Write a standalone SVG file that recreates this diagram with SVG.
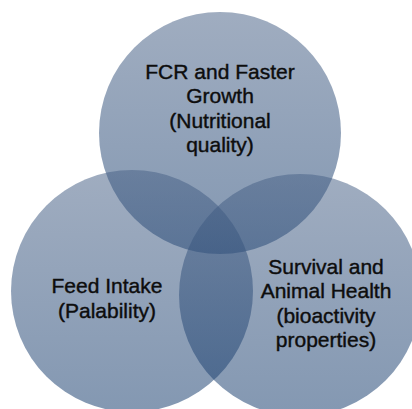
<svg xmlns="http://www.w3.org/2000/svg" width="412" height="409" viewBox="0 0 412 409">
<defs>
<linearGradient id="g" x1="0" y1="0" x2="0" y2="1">
<stop offset="0" stop-color="#486186"/>
<stop offset="1" stop-color="#12396b"/>
</linearGradient>
<style>
.c{fill:url(#g);fill-opacity:0.52}
text{font-family:"Liberation Sans",Arial,sans-serif;font-size:21px;fill:#0d0d0d;stroke:#0d0d0d;stroke-width:0.4;text-anchor:middle}
</style>
</defs>
<rect width="412" height="409" fill="#fff"/>
<g id="top">
<circle class="c" cx="220" cy="133" r="121"/>
<text x="220" y="79">FCR and Faster</text>
<text x="220" y="103">Growth</text>
<text x="220" y="127.5">(Nutritional</text>
<text x="220" y="151.5">quality)</text>
</g>
<g id="left">
<circle class="c" cx="132" cy="291" r="121"/>
<text x="107" y="293">Feed Intake</text>
<text x="107" y="317.5">(Palability)</text>
</g>
<g id="right">
<circle class="c" cx="300" cy="295" r="121"/>
<text x="326" y="274">Survival and</text>
<text x="326" y="298">Animal Health</text>
<text x="326" y="322.5">(bioactivity</text>
<text x="326" y="347">properties)</text>
</g>
<g id="connectors"/>
</svg>
